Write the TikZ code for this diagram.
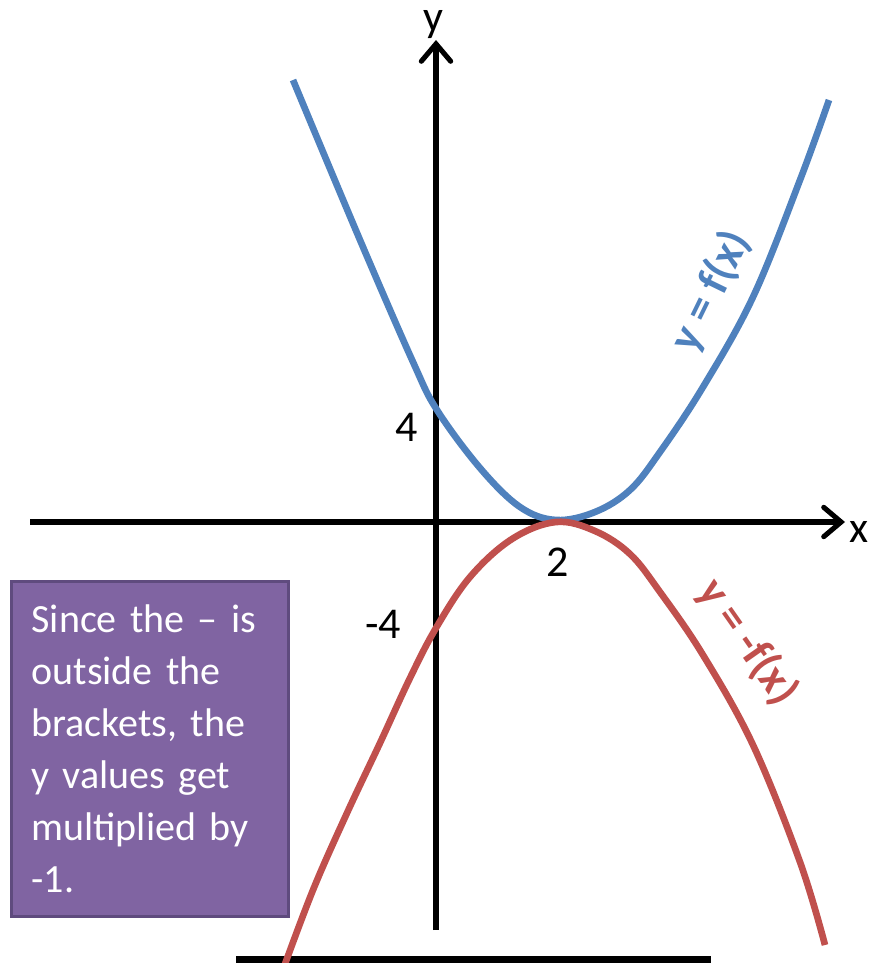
\documentclass[tikz,border=0pt]{standalone}
\usepackage{fontspec}
\setmainfont{Carlito}
\usetikzlibrary{arrows.meta}
\definecolor{fblue}{HTML}{4F81BD}
\definecolor{fred}{HTML}{C0504D}
\definecolor{boxfill}{HTML}{8064A2}
\definecolor{boxdraw}{HTML}{5F4B7E}
\begin{document}
\begin{tikzpicture}[x=0.75pt,y=-0.75pt,
  axisline/.style={line width=3.8pt,black,-{Straight Barb[length=13pt,width=22pt,line cap=round]}},
  curveblue/.style={line width=5pt,fblue},
  curvered/.style={line width=5pt,fred},
  axlabel/.style={font=\fontsize{33}{40}\selectfont,inner sep=0pt},
  curvelabel/.style={font=\fontsize{34}{40}\selectfont\bfseries,inner sep=0pt},
  notebox/.style={draw=boxdraw,line width=2.3pt,fill=boxfill,text=white,
     text width=178pt,align=left,inner xsep=15pt,inner ysep=0pt,
     minimum height=251pt,anchor=north west,
     font=\fontsize{30}{39}\selectfont}]
\useasboundingbox (0,0) rectangle (880,963);
% bottom bar
\fill[black] (236,956) rectangle (711,966);
% axes
\coordinate (xs) at (30,522);
\coordinate (xe) at (845,522);
\coordinate (ys) at (436,930);
\coordinate (ye) at (436,40);
\draw[axisline] (xs) -- (xe);
\draw[axisline] (ys) -- (ye);
% curves
\draw[curveblue] plot[smooth,tension=0.6] coordinates {(293,80) (360,240) (413,362) (437,410) (480,468) (520,507) (556,520) (595,512) (630,490) (660,452) (703,387) (753,297) (800,180) (829,100)};
\draw[curvered] plot[smooth,tension=0.6] coordinates {(281,975) (313,890) (347,813) (380,743) (410,678) (436,628) (470,577) (512,539) (556,522) (595,531) (630,554) (660,592) (703,655) (753,745) (800,862) (825,945)};
% labels
\node[axlabel] (ylab) at (433,25) {y};
\node[axlabel] (xlab) at (859,532) {x};
\node[axlabel] (four) at (407,427) {4};
\node[axlabel] (two) at (558,562) {2};
\node[axlabel] (mfour) at (383,624) {-4};
\node[curvelabel,text=fblue,rotate=64] (lblue) at (711,291) {y = f(x)};
\node[curvelabel,text=fred,rotate=-55] (lred) at (748,642) {y = -f(x)};
% box
\node[notebox] (note) at (10,580) {\hyphenpenalty=10000 \exhyphenpenalty=10000 Since the – is outside the brackets, the y values get multiplied by -1.};
\end{tikzpicture}
\end{document}
